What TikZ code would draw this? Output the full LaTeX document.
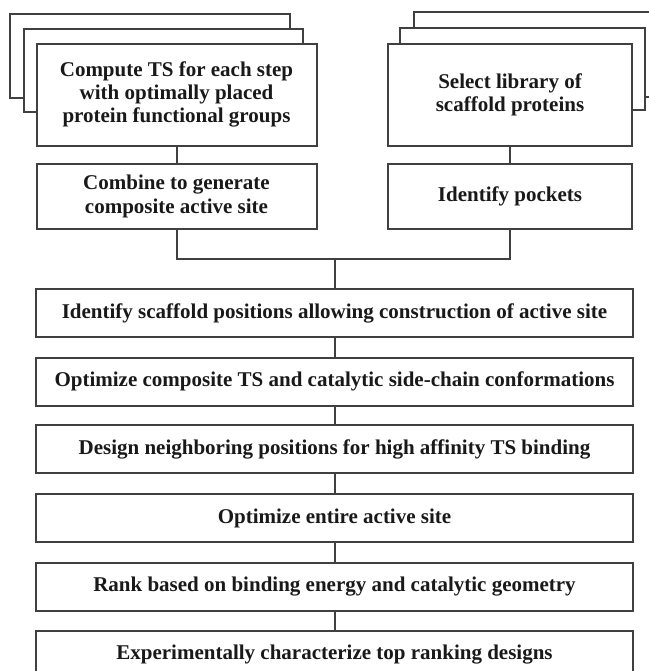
\documentclass[tikz,border=0pt]{standalone}
\usepackage{fontspec}
\setmainfont{Liberation Serif}
\usepackage{tikz}

\begin{document}
\begin{tikzpicture}[x=0.5pt, y=-0.5pt,
    box/.style={draw=black!75, line width=1pt, fill=white, align=center, inner sep=0pt,
        font=\bfseries\fontsize{10.5}{11.65}\selectfont, text=black!90},
    backbox/.style={draw=black!75, line width=1pt, fill=white},
    stepbox/.style={box, minimum width=298.5pt, minimum height=24pt},
    link/.style={draw=black!75, line width=1pt}]
    \useasboundingbox (0,0) rectangle (649,671);

    % Stacked boxes behind the top ones
    \draw[backbox] (10,14) rectangle (290,98);
    \draw[backbox] (24,29) rectangle (303,112);
    \draw[backbox] (414,12) rectangle (659,97);
    \draw[backbox] (400,28) rectangle (645,110);

    % Left column
    \node[box, minimum width=140pt, minimum height=51pt] (ts) at (176.5,94.5)
        {Compute TS for each step\\with optimally placed\\protein functional groups};
    \node[box, minimum width=140pt, minimum height=32.5pt] (comb) at (176.5,196.5)
        {Combine to generate\\composite active site};

    % Right column
    \node[box, minimum width=122pt, minimum height=51pt] (lib) at (510,94.5)
        {Select library of\\scaffold proteins};
    \node[box, minimum width=122pt, minimum height=32.5pt] (pock) at (510,196.5)
        {Identify pockets};

    % Main steps
    \node[stepbox] (scaf) at (334.5,313) {Identify scaffold positions allowing construction of active site};
    \node[stepbox] (opt) at (334.5,381.5) {Optimize composite TS and catalytic side-chain conformations};
    \node[stepbox] (neigh) at (334.5,449) {Design neighboring positions for high affinity TS binding};
    \node[stepbox] (site) at (334.5,518) {Optimize entire active site};
    \node[stepbox] (rank) at (334.5,586.5) {Rank based on binding energy and catalytic geometry};
    \node[stepbox] (expt) at (334.5,655) {Experimentally characterize top ranking designs};

    % Connectors
    \coordinate (merge) at (334.5,259);
    \draw[link] (ts) -- (comb);
    \draw[link] (lib) -- (pock);
    \draw[link] (comb.south) |- (merge);
    \draw[link] (pock.south) |- (merge);
    \draw[link] (merge) -- (scaf);
    \draw[link] (scaf) -- (opt);
    \draw[link] (opt) -- (neigh);
    \draw[link] (neigh) -- (site);
    \draw[link] (site) -- (rank);
    \draw[link] (rank) -- (expt);
\end{tikzpicture}
\end{document}
